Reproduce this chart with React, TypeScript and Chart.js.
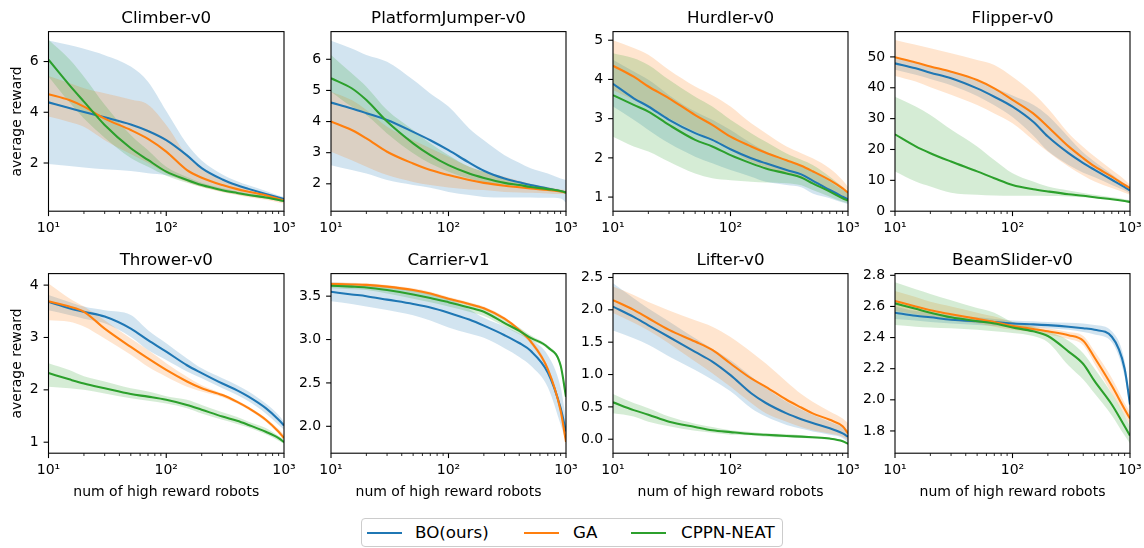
import React, { useEffect, useRef } from "react";
import { Chart, registerables } from "chart.js";

Chart.register(...registerables);
Chart.defaults.font.family = "'DejaVu Sans', sans-serif";
Chart.defaults.color = "#000";

// ---------- shared data ----------
const X = [10, 15, 20, 30, 50, 70, 100, 150, 200, 300, 400, 500, 700, 900, 1000];
const METHODS = ["BO(ours)", "GA", "CPPN-NEAT"];
const X_MAJOR = [10, 100, 1000];
const X_MINOR = [20, 30, 40, 50, 60, 70, 80, 90, 200, 300, 400, 500, 600, 700, 800, 900];
const X_LABEL = "num of high reward robots";
const Y_LABEL = "average reward";

// ---------- Climber-v0 ----------
const climberBO = [4.39, 4.17, 4.01, 3.8, 3.52, 3.26, 2.9, 2.3, 1.8, 1.35, 1.12, 0.98, 0.78, 0.64, 0.58];
const climberBOHi = [6.83, 6.65, 6.5, 6.25, 5.8, 5.2, 4.05, 2.75, 2.1, 1.55, 1.28, 1.12, 0.9, 0.72, 0.66];
const climberBOLo = [1.96, 1.88, 1.82, 1.75, 1.68, 1.6, 1.52, 1.3, 1.15, 0.95, 0.82, 0.72, 0.6, 0.5, 0.47];
const climberGA = [4.71, 4.48, 4.22, 3.75, 3.3, 2.95, 2.45, 1.72, 1.42, 1.13, 0.97, 0.87, 0.73, 0.58, 0.52];
const climberGAHi = [5.43, 5.15, 4.95, 4.75, 4.5, 4.3, 3.5, 2.3, 1.75, 1.32, 1.1, 0.97, 0.8, 0.64, 0.58];
const climberGALo = [3.83, 3.62, 3.43, 2.9, 2.35, 2.0, 1.6, 1.25, 1.05, 0.85, 0.74, 0.65, 0.55, 0.44, 0.4];
const climberCP = [6.07, 5.08, 4.42, 3.5, 2.58, 2.12, 1.66, 1.33, 1.13, 0.93, 0.82, 0.74, 0.64, 0.54, 0.5];
const climberCPHi = [6.86, 6.1, 5.4, 4.3, 3.1, 2.5, 1.85, 1.45, 1.22, 1.0, 0.88, 0.8, 0.69, 0.58, 0.54];
const climberCPLo = [5.41, 4.4, 3.75, 3.0, 2.2, 1.85, 1.5, 1.22, 1.05, 0.87, 0.76, 0.69, 0.6, 0.5, 0.47];
const climberTicks = [2, 4, 6];

// ---------- PlatformJumper-v0 ----------
const jumperBO = [4.61, 4.42, 4.27, 4.05, 3.67, 3.4, 3.08, 2.68, 2.42, 2.17, 2.05, 1.96, 1.85, 1.76, 1.72];
const jumperBOHi = [6.6, 6.35, 6.14, 5.92, 5.34, 4.9, 4.48, 3.78, 3.4, 2.92, 2.68, 2.5, 2.33, 2.17, 2.12];
const jumperBOLo = [2.6, 2.44, 2.33, 2.12, 1.96, 1.87, 1.74, 1.64, 1.58, 1.56, 1.56, 1.56, 1.55, 1.53, 1.4];
const jumperGA = [4.0, 3.73, 3.46, 3.03, 2.65, 2.44, 2.28, 2.12, 2.03, 1.94, 1.89, 1.85, 1.8, 1.75, 1.72];
const jumperGAHi = [4.96, 4.69, 4.37, 3.83, 3.4, 3.14, 2.87, 2.55, 2.39, 2.23, 2.1, 2.0, 1.9, 1.82, 1.8];
const jumperGALo = [3.03, 2.76, 2.55, 2.28, 2.06, 1.96, 1.88, 1.82, 1.8, 1.74, 1.72, 1.71, 1.69, 1.67, 1.67];
const jumperCP = [5.39, 5.07, 4.69, 4.0, 3.3, 2.92, 2.6, 2.33, 2.19, 2.03, 1.96, 1.9, 1.83, 1.77, 1.72];
const jumperCPHi = [6.14, 5.55, 5.12, 4.37, 3.73, 3.3, 2.92, 2.55, 2.39, 2.17, 2.07, 1.99, 1.87, 1.8, 1.76];
const jumperCPLo = [4.96, 4.48, 4.21, 3.62, 2.98, 2.65, 2.39, 2.17, 2.06, 1.96, 1.9, 1.85, 1.8, 1.74, 1.71];
const jumperTicks = [2, 3, 4, 5, 6];

// ---------- Hurdler-v0 ----------
const hurdlerBO = [3.89, 3.52, 3.31, 2.97, 2.63, 2.46, 2.22, 1.99, 1.86, 1.69, 1.58, 1.42, 1.18, 1.01, 0.94];
const hurdlerBOHi = [4.5, 4.2, 3.99, 3.6, 3.18, 2.97, 2.71, 2.37, 2.16, 1.94, 1.78, 1.65, 1.39, 1.18, 1.11];
const hurdlerBOLo = [3.31, 2.97, 2.71, 2.37, 2.03, 1.86, 1.69, 1.52, 1.39, 1.31, 1.25, 1.09, 0.97, 0.86, 0.82];
const hurdlerGA = [4.35, 4.07, 3.82, 3.52, 3.09, 2.84, 2.54, 2.29, 2.13, 1.94, 1.8, 1.66, 1.43, 1.22, 1.11];
const hurdlerGAHi = [5.0, 4.8, 4.63, 4.24, 3.82, 3.6, 3.31, 2.88, 2.63, 2.29, 2.12, 1.99, 1.73, 1.43, 1.26];
const hurdlerGALo = [3.73, 3.48, 3.31, 3.01, 2.67, 2.45, 2.2, 1.9, 1.77, 1.6, 1.5, 1.39, 1.14, 0.97, 0.92];
const hurdlerCP = [3.6, 3.35, 3.18, 2.84, 2.46, 2.29, 2.07, 1.86, 1.73, 1.6, 1.5, 1.35, 1.14, 0.97, 0.91];
const hurdlerCPHi = [4.67, 4.54, 4.37, 3.99, 3.56, 3.31, 2.97, 2.63, 2.41, 2.11, 1.95, 1.82, 1.52, 1.26, 1.14];
const hurdlerCPLo = [2.54, 2.29, 2.16, 1.9, 1.6, 1.48, 1.43, 1.39, 1.37, 1.35, 1.3, 1.18, 1.01, 0.88, 0.84];
const hurdlerTicks = [1, 2, 3, 4, 5];

// ---------- Flipper-v0 ----------
const flipperBO = [47.9, 46.3, 44.9, 43.1, 39.8, 37.1, 33.9, 29.0, 24.2, 18.8, 15.6, 13.4, 10.2, 7.8, 6.7];
const flipperBOHi = [49.8, 48.3, 47.0, 45.3, 42.3, 40.0, 37.5, 34.5, 31.0, 24.0, 19.0, 16.0, 12.0, 9.0, 8.0];
const flipperBOLo = [45.8, 44.2, 42.8, 40.8, 37.3, 34.3, 30.5, 24.5, 19.5, 15.0, 12.5, 11.0, 8.5, 6.7, 5.7];
const flipperGA = [49.9, 48.2, 46.9, 45.2, 42.5, 39.8, 36.1, 31.7, 27.4, 21.0, 17.2, 14.5, 11.2, 8.5, 7.5];
const flipperGAHi = [55.5, 53.9, 52.8, 51.2, 49.0, 47.4, 43.6, 38.2, 33.4, 25.3, 20.8, 17.7, 13.4, 10.2, 8.5];
const flipperGALo = [43.8, 42.0, 40.2, 37.7, 34.4, 31.7, 28.5, 23.1, 19.3, 14.5, 11.6, 9.6, 7.5, 6.0, 5.3];
const flipperCP = [24.9, 21.0, 18.8, 16.1, 12.9, 10.7, 8.5, 7.1, 6.4, 5.5, 5.0, 4.5, 3.9, 3.3, 3.0];
const flipperCPHi = [37.1, 33.9, 31.2, 26.5, 21.0, 16.6, 12.3, 9.6, 8.0, 6.7, 5.9, 5.3, 4.5, 3.9, 3.5];
const flipperCPLo = [12.9, 9.6, 8.0, 6.0, 5.3, 5.1, 5.0, 5.0, 4.9, 4.8, 4.5, 4.2, 3.7, 3.1, 2.8];
const flipperTicks = [0, 10, 20, 30, 40, 50];

// ---------- Thrower-v0 ----------
const throwerBO = [3.68, 3.56, 3.49, 3.4, 3.17, 2.95, 2.73, 2.47, 2.32, 2.12, 1.99, 1.87, 1.65, 1.43, 1.32];
const throwerBOHi = [3.81, 3.68, 3.59, 3.52, 3.43, 3.14, 2.89, 2.6, 2.41, 2.22, 2.09, 1.97, 1.74, 1.52, 1.39];
const throwerBOLo = [3.52, 3.43, 3.36, 3.27, 3.01, 2.76, 2.57, 2.35, 2.22, 2.03, 1.9, 1.78, 1.55, 1.33, 1.24];
const throwerGA = [3.69, 3.59, 3.49, 3.17, 2.82, 2.6, 2.38, 2.16, 2.03, 1.9, 1.77, 1.65, 1.43, 1.2, 1.08];
const throwerGAHi = [4.03, 3.75, 3.59, 3.33, 2.98, 2.76, 2.51, 2.25, 2.09, 1.93, 1.8, 1.68, 1.46, 1.25, 1.14];
const throwerGALo = [3.33, 3.3, 3.21, 2.98, 2.67, 2.44, 2.25, 2.06, 1.97, 1.86, 1.74, 1.62, 1.39, 1.16, 1.04];
const throwerCP = [2.32, 2.2, 2.12, 2.03, 1.92, 1.87, 1.81, 1.71, 1.62, 1.49, 1.41, 1.33, 1.2, 1.08, 1.0];
const throwerCPHi = [2.51, 2.38, 2.26, 2.16, 2.03, 1.97, 1.88, 1.81, 1.71, 1.57, 1.48, 1.39, 1.27, 1.12, 1.06];
const throwerCPLo = [2.06, 2.03, 2.0, 1.93, 1.84, 1.79, 1.74, 1.65, 1.55, 1.43, 1.35, 1.28, 1.15, 1.03, 0.97];
const throwerTicks = [1, 2, 3, 4];

// ---------- Carrier-v1 ----------
const carrierBO = [3.55, 3.52, 3.5, 3.46, 3.41, 3.37, 3.31, 3.23, 3.16, 3.05, 2.96, 2.87, 2.62, 2.21, 1.94];
const carrierBOHi = [3.66, 3.65, 3.64, 3.62, 3.58, 3.54, 3.47, 3.35, 3.25, 3.15, 3.07, 3.0, 2.82, 2.45, 2.08];
const carrierBOLo = [3.44, 3.41, 3.38, 3.34, 3.28, 3.22, 3.14, 3.07, 3.02, 2.9, 2.8, 2.7, 2.45, 2.02, 1.82];
const carrierGA = [3.64, 3.635, 3.63, 3.61, 3.57, 3.53, 3.47, 3.41, 3.36, 3.24, 3.11, 2.98, 2.66, 2.18, 1.82];
const carrierGAHi = [3.66, 3.655, 3.65, 3.63, 3.59, 3.55, 3.49, 3.43, 3.38, 3.26, 3.13, 3.01, 2.69, 2.22, 1.86];
const carrierGALo = [3.62, 3.615, 3.61, 3.59, 3.55, 3.51, 3.45, 3.39, 3.34, 3.22, 3.09, 2.95, 2.63, 2.14, 1.78];
const carrierCP = [3.62, 3.61, 3.6, 3.57, 3.52, 3.48, 3.43, 3.37, 3.32, 3.19, 3.1, 3.02, 2.91, 2.7, 2.34];
const carrierCPHi = [3.65, 3.64, 3.63, 3.61, 3.57, 3.53, 3.48, 3.42, 3.37, 3.24, 3.14, 3.05, 2.93, 2.73, 2.4];
const carrierCPLo = [3.59, 3.58, 3.57, 3.53, 3.47, 3.43, 3.38, 3.32, 3.27, 3.15, 3.06, 2.99, 2.89, 2.67, 2.28];
const carrierTicks = [2.0, 2.5, 3.0, 3.5];

// ---------- Lifter-v0 ----------
const lifterBO = [2.05, 1.89, 1.76, 1.58, 1.35, 1.2, 0.99, 0.71, 0.56, 0.4, 0.31, 0.25, 0.17, 0.09, 0.04];
const lifterBOHi = [2.41, 2.18, 2.02, 1.82, 1.56, 1.4, 1.22, 0.97, 0.79, 0.58, 0.46, 0.38, 0.27, 0.19, 0.14];
const lifterBOLo = [1.68, 1.56, 1.46, 1.28, 1.07, 0.92, 0.74, 0.48, 0.35, 0.22, 0.16, 0.12, 0.07, 0.02, -0.05];
const lifterGA = [2.15, 2.0, 1.87, 1.69, 1.51, 1.38, 1.17, 0.94, 0.81, 0.61, 0.49, 0.4, 0.3, 0.2, 0.09];
const lifterGAHi = [2.36, 2.23, 2.12, 1.99, 1.84, 1.74, 1.58, 1.35, 1.17, 0.89, 0.7, 0.58, 0.43, 0.32, 0.25];
const lifterGALo = [1.95, 1.8, 1.68, 1.48, 1.2, 1.02, 0.81, 0.56, 0.4, 0.27, 0.19, 0.14, 0.09, 0.04, -0.01];
const lifterCP = [0.57, 0.45, 0.38, 0.27, 0.19, 0.14, 0.11, 0.08, 0.07, 0.05, 0.04, 0.03, 0.01, -0.03, -0.07];
const lifterCPHi = [0.7, 0.56, 0.48, 0.35, 0.24, 0.19, 0.14, 0.11, 0.09, 0.08, 0.06, 0.04, 0.02, -0.01, -0.05];
const lifterCPLo = [0.4, 0.35, 0.27, 0.2, 0.13, 0.1, 0.07, 0.06, 0.04, 0.03, 0.02, 0.01, -0.01, -0.04, -0.09];
const lifterTicks = [0.0, 0.5, 1.0, 1.5, 2.0, 2.5];

// ---------- BeamSlider-v0 ----------
const beamBO = [2.56, 2.54, 2.53, 2.515, 2.505, 2.5, 2.49, 2.485, 2.48, 2.47, 2.46, 2.45, 2.405, 2.2, 1.97];
const beamBOHi = [2.6, 2.57, 2.56, 2.545, 2.53, 2.52, 2.51, 2.505, 2.5, 2.495, 2.49, 2.48, 2.44, 2.25, 2.0];
const beamBOLo = [2.52, 2.51, 2.5, 2.49, 2.48, 2.475, 2.47, 2.465, 2.46, 2.45, 2.435, 2.42, 2.37, 2.15, 1.94];
const beamGA = [2.635, 2.6, 2.575, 2.55, 2.52, 2.5, 2.475, 2.455, 2.44, 2.415, 2.38, 2.27, 2.09, 1.94, 1.88];
const beamGAHi = [2.7, 2.66, 2.63, 2.6, 2.56, 2.535, 2.5, 2.475, 2.46, 2.435, 2.41, 2.31, 2.14, 1.98, 1.92];
const beamGALo = [2.57, 2.55, 2.53, 2.51, 2.49, 2.47, 2.45, 2.435, 2.42, 2.39, 2.35, 2.23, 2.04, 1.9, 1.84];
const beamCP = [2.62, 2.585, 2.56, 2.53, 2.505, 2.49, 2.465, 2.44, 2.41, 2.31, 2.23, 2.12, 1.97, 1.83, 1.77];
const beamCPHi = [2.755, 2.71, 2.68, 2.64, 2.59, 2.56, 2.5, 2.47, 2.44, 2.38, 2.3, 2.2, 2.04, 1.9, 1.83];
const beamCPLo = [2.48, 2.47, 2.465, 2.46, 2.45, 2.44, 2.43, 2.41, 2.37, 2.22, 2.13, 2.04, 1.9, 1.77, 1.72];
const beamTicks = [1.8, 2.0, 2.2, 2.4, 2.6, 2.8];

// ---------- panel table ----------
type Series = { mean: number[]; lo: number[]; hi: number[] };
type Panel = { title: string; series: Series[]; yMin: number; yMax: number; yTicks: number[]; dec: number };

const PANELS: Panel[] = [
  { title: "Climber-v0", yMin: 0.1, yMax: 7.18, yTicks: climberTicks, dec: 0,
    series: [{ mean: climberBO, lo: climberBOLo, hi: climberBOHi }, { mean: climberGA, lo: climberGALo, hi: climberGAHi }, { mean: climberCP, lo: climberCPLo, hi: climberCPHi }] },
  { title: "PlatformJumper-v0", yMin: 1.12, yMax: 6.89, yTicks: jumperTicks, dec: 0,
    series: [{ mean: jumperBO, lo: jumperBOLo, hi: jumperBOHi }, { mean: jumperGA, lo: jumperGALo, hi: jumperGAHi }, { mean: jumperCP, lo: jumperCPLo, hi: jumperCPHi }] },
  { title: "Hurdler-v0", yMin: 0.64, yMax: 5.22, yTicks: hurdlerTicks, dec: 0,
    series: [{ mean: hurdlerBO, lo: hurdlerBOLo, hi: hurdlerBOHi }, { mean: hurdlerGA, lo: hurdlerGALo, hi: hurdlerGAHi }, { mean: hurdlerCP, lo: hurdlerCPLo, hi: hurdlerCPHi }] },
  { title: "Flipper-v0", yMin: 0, yMax: 58.2, yTicks: flipperTicks, dec: 0,
    series: [{ mean: flipperBO, lo: flipperBOLo, hi: flipperBOHi }, { mean: flipperGA, lo: flipperGALo, hi: flipperGAHi }, { mean: flipperCP, lo: flipperCPLo, hi: flipperCPHi }] },
  { title: "Thrower-v0", yMin: 0.79, yMax: 4.22, yTicks: throwerTicks, dec: 0,
    series: [{ mean: throwerBO, lo: throwerBOLo, hi: throwerBOHi }, { mean: throwerGA, lo: throwerGALo, hi: throwerGAHi }, { mean: throwerCP, lo: throwerCPLo, hi: throwerCPHi }] },
  { title: "Carrier-v1", yMin: 1.69, yMax: 3.76, yTicks: carrierTicks, dec: 1,
    series: [{ mean: carrierBO, lo: carrierBOLo, hi: carrierBOHi }, { mean: carrierGA, lo: carrierGALo, hi: carrierGAHi }, { mean: carrierCP, lo: carrierCPLo, hi: carrierCPHi }] },
  { title: "Lifter-v0", yMin: -0.216, yMax: 2.56, yTicks: lifterTicks, dec: 1,
    series: [{ mean: lifterBO, lo: lifterBOLo, hi: lifterBOHi }, { mean: lifterGA, lo: lifterGALo, hi: lifterGAHi }, { mean: lifterCP, lo: lifterCPLo, hi: lifterCPHi }] },
  { title: "BeamSlider-v0", yMin: 1.657, yMax: 2.811, yTicks: beamTicks, dec: 1,
    series: [{ mean: beamBO, lo: beamBOLo, hi: beamBOHi }, { mean: beamGA, lo: beamGALo, hi: beamGAHi }, { mean: beamCP, lo: beamCPLo, hi: beamCPHi }] },
];

// ---------- styles / layout ----------
const COLORS = ["#1f77b4", "#ff7f0e", "#2ca02c"];
const BANDS = ["rgba(31,119,180,0.2)", "rgba(255,127,14,0.2)", "rgba(44,160,44,0.2)"];
const COL_CANVAS_LEFT = [0, 283, 565, 847];
const COL_PLOT_LEFT = [48.5, 331, 613, 895];
const COL_PLOT_W = [235.5, 235, 235, 235];
const ROW_CANVAS_TOP = [0, 242];
const ROW_CANVAS_H = [240, 272];
const TITLE_H = 31.6;
const PLOT_H = 179.6;
const TICK_FONT = 14;
const TITLE_FONT = 16.7;
const SUP: Record<string, string> = { "0": "⁰", "1": "¹", "2": "²", "3": "³", "4": "⁴" };

const framePlugin = {
  id: "mplFrame",
  afterDatasetsDraw(chart: any) {
    const { ctx, chartArea: a, scales } = chart;
    const xs = scales.x;
    const ys = scales.y;
    ctx.save();
    ctx.strokeStyle = "#000";
    const seg = (x1: number, y1: number, x2: number, y2: number) => {
      ctx.beginPath();
      ctx.moveTo(x1, y1);
      ctx.lineTo(x2, y2);
      ctx.stroke();
    };
    ctx.lineWidth = 1.1;
    X_MAJOR.forEach((v) => { const p = xs.getPixelForValue(v); seg(p, a.bottom, p, a.bottom + 4.9); });
    ys.ticks.forEach((t: any) => { const p = ys.getPixelForValue(t.value); seg(a.left - 4.9, p, a.left, p); });
    ctx.lineWidth = 0.83;
    X_MINOR.forEach((v) => { const p = xs.getPixelForValue(v); seg(p, a.bottom, p, a.bottom + 2.8); });
    ctx.lineWidth = 1.1;
    ctx.strokeRect(a.left, a.top, a.right - a.left, a.bottom - a.top);
    ctx.restore();
  },
};

function pts(arr: number[]) {
  return X.map((x, i) => ({ x, y: arr[i] }));
}

function PanelChart({ panel, row, col }: { panel: Panel; row: number; col: number }) {
  const ref = useRef<HTMLCanvasElement>(null);
  const yW = COL_PLOT_LEFT[col] - COL_CANVAS_LEFT[col];
  const plotW = COL_PLOT_W[col];
  const W = Math.ceil(yW + plotW + 14);
  const H = ROW_CANVAS_H[row];
  const B = H - TITLE_H - PLOT_H;

  useEffect(() => {
    if (!ref.current) return;
    const datasets: any[] = [];
    panel.series.forEach((s, i) => {
      datasets.push({
        label: METHODS[i] + " lower", data: pts(s.lo), borderColor: "rgba(0,0,0,0)", borderWidth: 0,
        backgroundColor: "rgba(0,0,0,0)", fill: false, pointRadius: 0, cubicInterpolationMode: "monotone", order: 10,
      });
      datasets.push({
        label: METHODS[i] + " upper", data: pts(s.hi), borderColor: "rgba(0,0,0,0)", borderWidth: 0,
        backgroundColor: BANDS[i], fill: "-1", pointRadius: 0, cubicInterpolationMode: "monotone", order: 6 - i,
      });
    });
    panel.series.forEach((s, i) => {
      datasets.push({
        label: METHODS[i], data: pts(s.mean), borderColor: COLORS[i], borderWidth: 2.08, fill: false,
        pointRadius: 0, cubicInterpolationMode: "monotone", order: 2 - i, borderJoinStyle: "round",
      });
    });

    const chart = new Chart(ref.current, {
      type: "line",
      data: { datasets },
      plugins: [framePlugin],
      options: {
        animation: false,
        responsive: false,
        devicePixelRatio: 1,
        events: [],
        layout: { padding: { left: 0, top: 0, bottom: 0, right: W - yW - plotW } },
        plugins: {
          legend: { display: false },
          tooltip: { enabled: false },
          title: {
            display: true, text: panel.title, color: "#000", fullSize: false,
            font: { size: TITLE_FONT, weight: "normal" },
            padding: { top: 8.4, bottom: TITLE_H - TITLE_FONT * 1.2 - 8.4 },
          },
        },
        scales: {
          x: {
            type: "logarithmic", min: 10, max: 1000,
            grid: { display: false, drawTicks: false },
            border: { display: false },
            afterBuildTicks: (s: any) => { s.ticks = X_MAJOR.map((v) => ({ value: v, major: true })); },
            ticks: {
              autoSkip: false, maxRotation: 0, minRotation: 0, padding: row === 0 ? 8.4 : 9.0,
              font: { size: TICK_FONT }, color: "#000",
              callback: (v: any) => "10" + String(Math.round(Math.log10(Number(v)))).split("").map((c) => SUP[c]).join(""),
            },
            title: { display: row === 1, text: X_LABEL, color: "#000", font: { size: TICK_FONT }, padding: { top: 0, bottom: 13.4 } },
            afterFit: (s: any) => { s.height = B; s.paddingLeft = 0; s.paddingRight = 0; },
          },
          y: {
            type: "linear", min: panel.yMin, max: panel.yMax,
            grid: { display: false, drawTicks: false },
            border: { display: false },
            afterBuildTicks: (s: any) => { s.ticks = panel.yTicks.map((v) => ({ value: v })); },
            ticks: {
              autoSkip: false, padding: 9.8, font: { size: TICK_FONT }, color: "#000",
              callback: (v: any) => Number(v).toFixed(panel.dec),
            },
            title: { display: col === 0, text: Y_LABEL, color: "#000", font: { size: TICK_FONT }, padding: { top: 8.6, bottom: 0 } },
            afterFit: (s: any) => { s.width = yW; s.paddingTop = 0; s.paddingBottom = 0; },
          },
        },
      } as any,
    });
    return () => chart.destroy();
  }, []);

  return (
    <canvas
      ref={ref}
      width={W}
      height={H}
      style={{ position: "absolute", left: COL_CANVAS_LEFT[col], top: ROW_CANVAS_TOP[row], width: W, height: H }}
    />
  );
}

const LEGEND_HANDLE_X = [367, 524, 631];
const LEGEND_TEXT_X = [415, 573, 681];

export default function App() {
  return (
    <div style={{ position: "absolute", left: 0, top: 0, width: 1144, height: 548, background: "#fff", overflow: "hidden" }}>
      {PANELS.map((p, i) => (
        <PanelChart key={p.title} panel={p} row={Math.floor(i / 4)} col={i % 4} />
      ))}
      <div
        style={{
          position: "absolute", left: 361, top: 518, width: 422, height: 29, boxSizing: "border-box",
          border: "1px solid #cccccc", borderRadius: 4, background: "rgba(255,255,255,0.8)",
          fontFamily: "'DejaVu Sans', sans-serif", fontSize: 16.7, color: "#000",
        }}
      >
        {METHODS.map((m, i) => (
          <React.Fragment key={m}>
            <div
              style={{
                position: "absolute", left: LEGEND_HANDLE_X[i] - 362, top: 12.5, width: 35, height: 0,
                borderTop: `2.08px solid ${COLORS[i]}`,
              }}
            />
            <div
              style={{
                position: "absolute", left: LEGEND_TEXT_X[i] - 362, top: 0, height: 27, lineHeight: "27px", whiteSpace: "nowrap",
              }}
            >
              {m}
            </div>
          </React.Fragment>
        ))}
      </div>
    </div>
  );
}
